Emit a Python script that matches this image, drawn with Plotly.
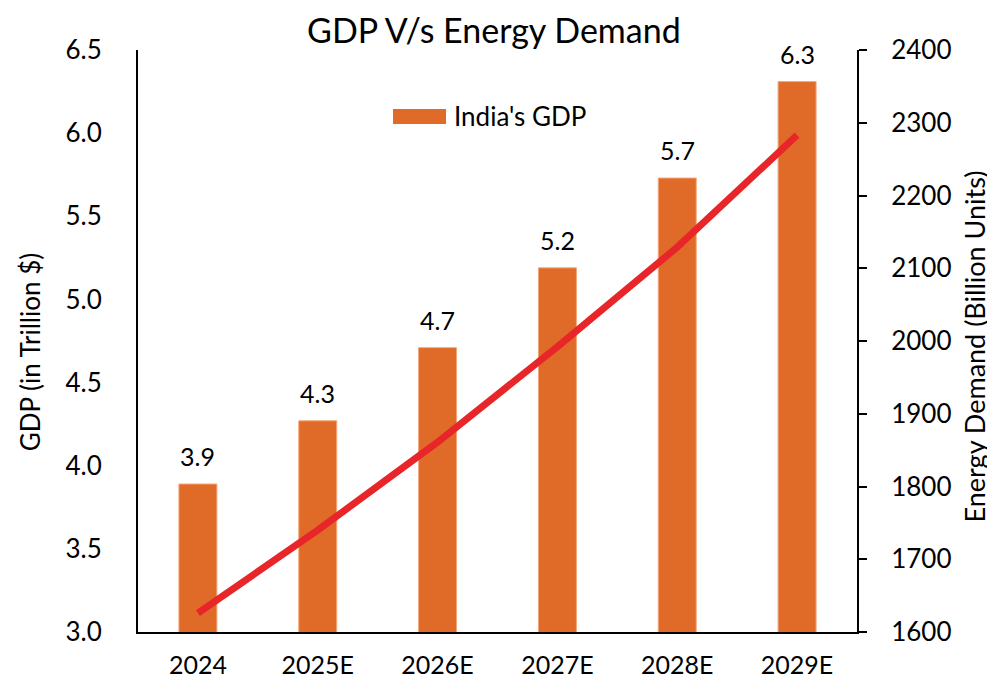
import plotly.graph_objects as go

years = ["2024", "2025E", "2026E", "2027E", "2028E", "2029E"]
gdp = [3.89, 4.27, 4.71, 5.19, 5.73, 6.31]
energy = [1626, 1740, 1861, 1992, 2129, 2283]
gdp_name = "India's GDP"
title_text = "GDP V/s Energy Demand"
y1_title = "GDP (in Trillion $)"
y2_title = "Energy Demand (Billion Units)"

FONT = "Lato"
BAR = "#E06B28"

fig = go.Figure()
fig.add_trace(go.Bar(
    x=years, y=gdp, name=gdp_name,
    marker=dict(color=BAR, line=dict(color="#F4A77A", width=1)),
    yaxis="y", showlegend=False,
))
fig.add_trace(go.Scatter(
    x=years, y=energy, name="Energy Demand", mode="lines",
    line=dict(color="#E8262A", width=7), yaxis="y2", showlegend=False,
))

# data labels above bars (x given as category index)
for i, v in enumerate(gdp):
    fig.add_annotation(x=i, y=v, xref="x", yref="y", text=f"{v:.1f}", showarrow=False,
                       yanchor="bottom", yshift=11, font=dict(size=25, family=FONT, color="black"))

# legend (wide swatch like the original)
fig.add_shape(type="rect", xref="paper", yref="paper", x0=0.3547, x1=0.4284, y0=0.8729, y1=0.8986,
              fillcolor=BAR, line=dict(width=0))
fig.add_annotation(xref="paper", yref="paper", x=0.437, y=0.886, xanchor="left", yanchor="middle",
                   text=gdp_name, showarrow=False, font=dict(size=26, family=FONT, color="black"))

# axis titles
fig.add_annotation(xref="paper", yref="paper", x=-0.149, y=0.482, text=y1_title, textangle=-90,
                   showarrow=False, xanchor="center", yanchor="middle",
                   font=dict(size=26, family=FONT, color="black"))
fig.add_annotation(xref="paper", yref="paper", x=1.163, y=0.491, text=y2_title, textangle=-90,
                   showarrow=False, xanchor="center", yanchor="middle",
                   font=dict(size=27, family=FONT, color="black"))

fig.update_layout(
    width=987, height=671,
    margin=dict(l=130, r=138, t=42, b=47, autoexpand=False),
    paper_bgcolor="white", plot_bgcolor="white",
    font=dict(family=FONT, color="black", size=26),
    title=dict(text=title_text, x=0.495, xanchor="center", xref="paper", y=0.966, yanchor="middle",
               font=dict(size=34, family=FONT, color="black")),
    bargap=0.683,
    showlegend=False,
    xaxis=dict(type="category", range=[-0.5, 5.5], showline=True, linecolor="black", linewidth=2,
               ticks="", showgrid=False, tickfont=dict(size=25, family=FONT), ticklabelstandoff=10),
    yaxis=dict(range=[3, 6.5], dtick=0.5, tickformat=".1f", showline=True, linecolor="black",
               linewidth=2, ticks="", showgrid=False, zeroline=False,
               tickfont=dict(size=26, family=FONT), ticklabelstandoff=29),
    yaxis2=dict(range=[1600, 2400], dtick=100, overlaying="y", side="right", showline=True,
                linecolor="black", linewidth=2, ticks="outside", ticklen=8, tickwidth=2,
                tickcolor="black", showgrid=False, zeroline=False,
                tickfont=dict(size=26, family=FONT), ticklabelstandoff=19),
)

fig.write_html("out.html")
